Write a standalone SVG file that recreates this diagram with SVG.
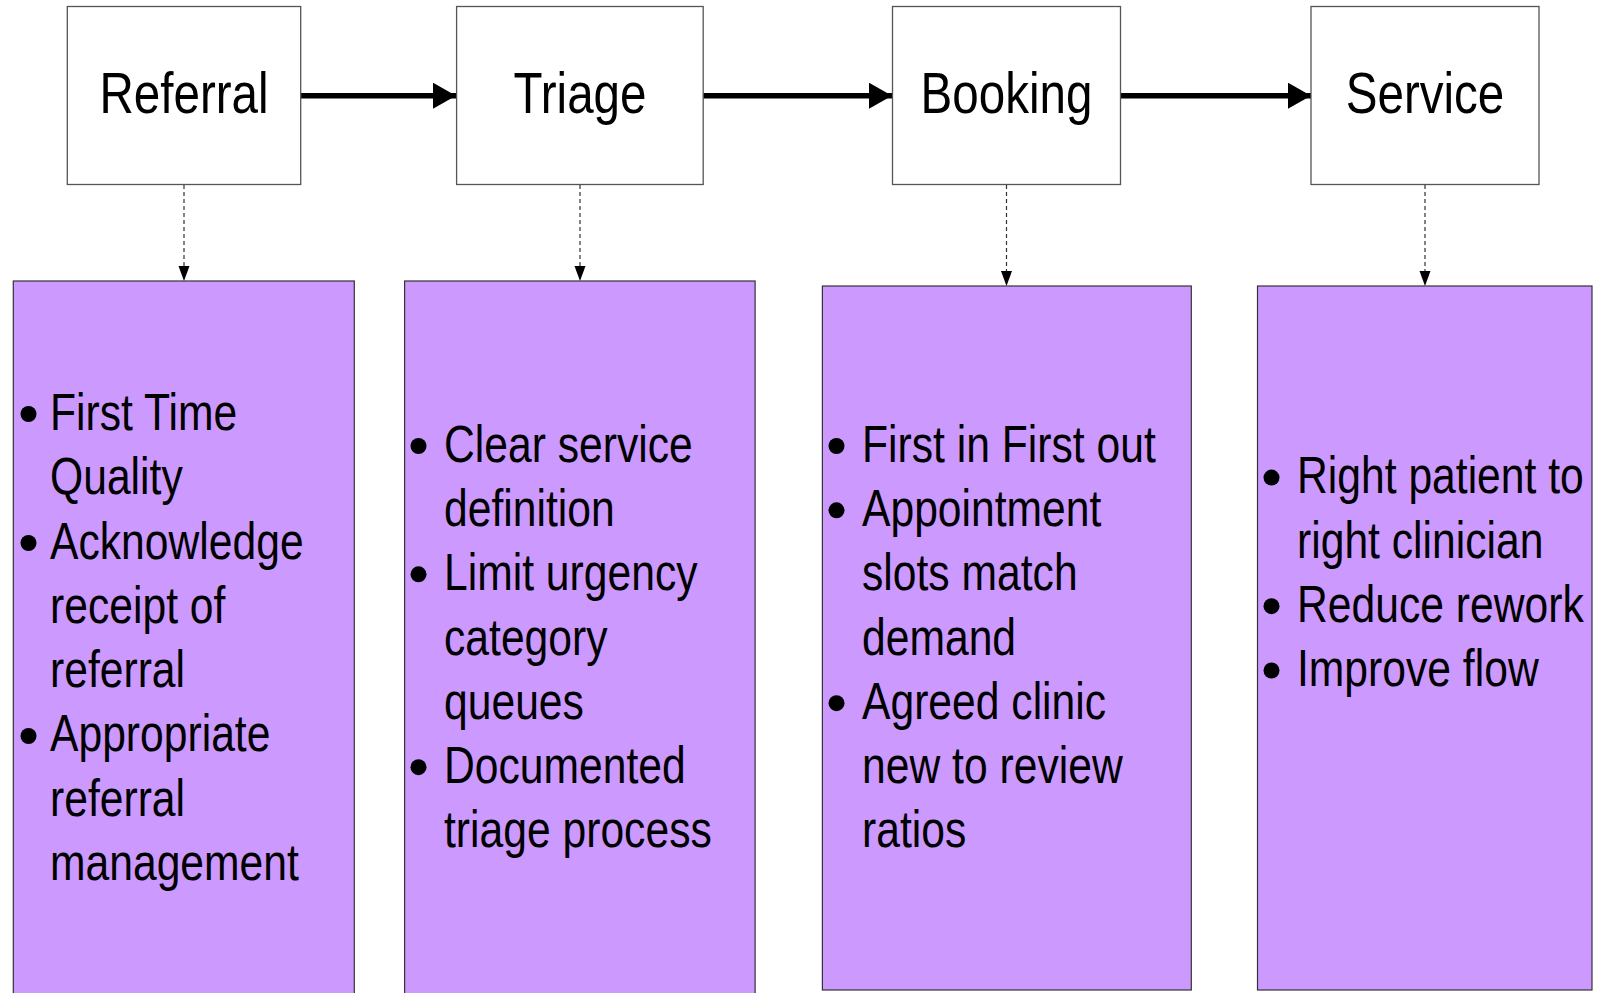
<svg xmlns="http://www.w3.org/2000/svg" width="1598" height="993" viewBox="0 0 1598 993">
<style>
.title{font-family:"Liberation Sans",Arial,sans-serif;font-size:58px;fill:#000;text-anchor:middle}
.item{font-family:"Liberation Sans",Arial,sans-serif;font-size:52px;fill:#000}
.stage{fill:#fff;stroke:#555;stroke-width:1.3}
.panel{fill:#cc99ff;stroke:#333;stroke-width:1.2}
.flow{stroke:#000;stroke-width:5.5;stroke-linecap:round;fill:none}
.dash{stroke:#333;stroke-width:1.2;stroke-dasharray:4 3;fill:none}
.bul{fill:#000}
</style>
<defs>
<marker id="big" markerUnits="userSpaceOnUse" viewBox="0 0 23 26" refX="23" refY="13" markerWidth="23" markerHeight="26" orient="auto">
<path d="M0,0 L23,13 L0,26 Z" fill="#000"/>
</marker>
</defs>
<rect width="1598" height="993" fill="#fff"/>

<g id="connectors">
<line class="flow" x1="301" y1="95.7" x2="456" y2="95.7" marker-end="url(#big)"/>
<line class="flow" x1="704" y1="95.7" x2="892" y2="95.7" marker-end="url(#big)"/>
<line class="flow" x1="1121" y1="95.7" x2="1311" y2="95.7" marker-end="url(#big)"/>
<line class="dash" x1="184" y1="185" x2="184" y2="270"/>
<path d="M178.5,266 L189.5,266 L184,281 Z" fill="#000"/>
<line class="dash" x1="580" y1="185" x2="580" y2="270"/>
<path d="M574.5,266 L585.5,266 L580,281 Z" fill="#000"/>
<line class="dash" x1="1006.5" y1="185" x2="1006.5" y2="275"/>
<path d="M1001,271 L1012,271 L1006.5,286 Z" fill="#000"/>
<line class="dash" x1="1425" y1="185" x2="1425" y2="275"/>
<path d="M1419.5,271 L1430.5,271 L1425,286 Z" fill="#000"/>
</g>

<g id="referral">
<rect class="stage" x="67.3" y="6.5" width="233.4" height="178"/>
<text class="title" transform="translate(184,113) scale(0.82,1)">Referral</text>
</g>
<g id="triage">
<rect class="stage" x="456.6" y="6.5" width="246.6" height="178"/>
<text class="title" transform="translate(580,113) scale(0.82,1)">Triage</text>
</g>
<g id="booking">
<rect class="stage" x="892.5" y="6.5" width="228" height="178"/>
<text class="title" transform="translate(1006.5,113) scale(0.82,1)">Booking</text>
</g>
<g id="service">
<rect class="stage" x="1311" y="6.5" width="228" height="178"/>
<text class="title" transform="translate(1425,113) scale(0.82,1)">Service</text>
</g>

<g id="referral-notes">
<rect class="panel" x="13.3" y="281" width="341" height="720"/>
<circle class="bul" cx="28.5" cy="414" r="8"/>
<circle class="bul" cx="28.5" cy="543" r="8"/>
<circle class="bul" cx="28.5" cy="736" r="8"/>
<text class="item" transform="translate(50,430) scale(0.82,1)">
<tspan x="0" y="0">First Time</tspan>
<tspan x="0" y="64.3">Quality</tspan>
<tspan x="0" y="128.6">Acknowledge</tspan>
<tspan x="0" y="192.9">receipt of</tspan>
<tspan x="0" y="257.2">referral</tspan>
<tspan x="0" y="321.5">Appropriate</tspan>
<tspan x="0" y="385.8">referral</tspan>
<tspan x="0" y="450.1">management</tspan>
</text>
</g>

<g id="triage-notes">
<rect class="panel" x="404.6" y="281" width="350.5" height="720"/>
<circle class="bul" cx="418.5" cy="446" r="8"/>
<circle class="bul" cx="418.5" cy="574.3" r="8"/>
<circle class="bul" cx="418.5" cy="767.2" r="8"/>
<text class="item" transform="translate(444,461.7) scale(0.82,1)">
<tspan x="0" y="0">Clear service</tspan>
<tspan x="0" y="64.3">definition</tspan>
<tspan x="0" y="128.6">Limit urgency</tspan>
<tspan x="0" y="192.9">category</tspan>
<tspan x="0" y="257.2">queues</tspan>
<tspan x="0" y="321.5">Documented</tspan>
<tspan x="0" y="385.8">triage process</tspan>
</text>
</g>

<g id="booking-notes">
<rect class="panel" x="822.4" y="286" width="368.9" height="704"/>
<circle class="bul" cx="836.5" cy="446" r="8"/>
<circle class="bul" cx="836.5" cy="510.3" r="8"/>
<circle class="bul" cx="836.5" cy="703.2" r="8"/>
<text class="item" transform="translate(862,461.7) scale(0.82,1)">
<tspan x="0" y="0">First in First out</tspan>
<tspan x="0" y="64.3">Appointment</tspan>
<tspan x="0" y="128.6">slots match</tspan>
<tspan x="0" y="192.9">demand</tspan>
<tspan x="0" y="257.2">Agreed clinic</tspan>
<tspan x="0" y="321.5">new to review</tspan>
<tspan x="0" y="385.8">ratios</tspan>
</text>
</g>

<g id="service-notes">
<rect class="panel" x="1257.5" y="286" width="334.5" height="704"/>
<circle class="bul" cx="1271.5" cy="477.6" r="8"/>
<circle class="bul" cx="1271.5" cy="606.2" r="8"/>
<circle class="bul" cx="1271.5" cy="670.5" r="8"/>
<text class="item" transform="translate(1297,493.3) scale(0.82,1)">
<tspan x="0" y="0">Right patient to</tspan>
<tspan x="0" y="64.3">right clinician</tspan>
<tspan x="0" y="128.6">Reduce rework</tspan>
<tspan x="0" y="192.9">Improve flow</tspan>
</text>
</g>
</svg>
